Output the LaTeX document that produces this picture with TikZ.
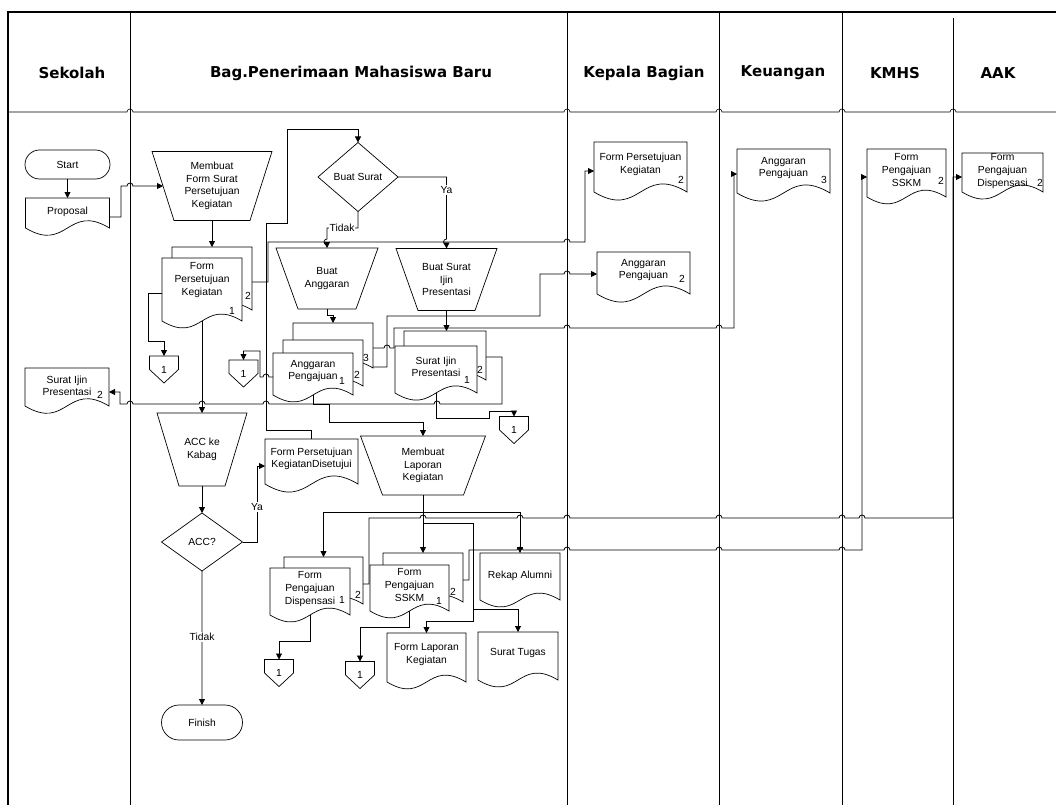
\documentclass[tikz,border=0pt]{standalone}
\usepackage{fontspec}
\setmainfont{Liberation Sans}
\newfontfamily\hdrfamily{DejaVu Sans}
\usepackage{tikz}
\usetikzlibrary{arrows.meta,shapes.geometric,shapes.misc}

\newcommand{\dgfont}{\fontsize{10.3}{12.6}\selectfont}
% line hops: over a vertical line (left to right / right to left), over a horizontal line (downwards)
\newcommand{\hopr}[2]{-- (#1-3,#2) arc[start angle=180,end angle=360,radius=3]}
\newcommand{\hopl}[2]{-- (#1+3,#2) arc[start angle=0,end angle=-180,radius=3]}
\newcommand{\hopd}[2]{-- (#1,#2-3) arc[start angle=270,end angle=90,radius=3]}

\makeatletter
\newdimen\shL \newdimen\shR \newdimen\shB \newdimen\shT
\newdimen\shW \newdimen\shAx \newdimen\shAy \newdimen\shBx \newdimen\shBy
\pgfkeys{/pgf/doc drop/.initial=0pt}
% document symbol: flat top, wavy bottom
\pgfdeclareshape{wavedoc}{
  \inheritsavedanchors[from=rectangle]
  \inheritanchorborder[from=rectangle]
  \inheritanchor[from=rectangle]{center}
  \inheritanchor[from=rectangle]{north}
  \inheritanchor[from=rectangle]{south}
  \inheritanchor[from=rectangle]{east}
  \inheritanchor[from=rectangle]{west}
  \inheritanchor[from=rectangle]{north east}
  \inheritanchor[from=rectangle]{north west}
  \inheritanchor[from=rectangle]{south east}
  \inheritanchor[from=rectangle]{south west}
  \saveddimen{\docdrop}{\pgfmathsetlength\pgf@x{\pgfkeysvalueof{/pgf/doc drop}}}
  \anchor{bottom}{%
    \southwest \pgf@xa=\pgf@x \pgf@ya=\pgf@y
    \northeast \advance\pgf@x by\pgf@xa \pgf@x=.5\pgf@x
    \pgf@y=\pgf@ya \advance\pgf@y by-\docdrop}
  \backgroundpath{%
    \southwest \shL=\pgf@x \shB=\pgf@y
    \northeast \shR=\pgf@x \shT=\pgf@y
    \advance\shB by-\docdrop
    \shW=\shR \advance\shW by-\shL
    \shAx=\shR \advance\shAx by-.5\shW
    \shBx=\shL \advance\shBx by.5\shW
    \shAy=\shB \advance\shAy by.3\shW
    \shBy=\shB \advance\shBy by-.3\shW
    \pgfpathmoveto{\pgfqpoint{\shL}{\shT}}%
    \pgfpathlineto{\pgfqpoint{\shR}{\shT}}%
    \pgfpathlineto{\pgfqpoint{\shR}{\shB}}%
    \pgfpathcurveto{\pgfqpoint{\shAx}{\shAy}}{\pgfqpoint{\shBx}{\shBy}}{\pgfqpoint{\shL}{\shB}}%
    \pgfpathclose}
}
% manual operation: wide top, narrow bottom
\pgfdeclareshape{manop}{
  \inheritsavedanchors[from=rectangle]
  \inheritanchorborder[from=rectangle]
  \inheritanchor[from=rectangle]{center}
  \inheritanchor[from=rectangle]{north}
  \inheritanchor[from=rectangle]{south}
  \inheritanchor[from=rectangle]{east}
  \inheritanchor[from=rectangle]{west}
  \backgroundpath{%
    \southwest \shL=\pgf@x \shB=\pgf@y
    \northeast \shR=\pgf@x \shT=\pgf@y
    \pgfpathmoveto{\pgfqpoint{\shL}{\shT}}%
    \pgfpathlineto{\pgfqpoint{\shR}{\shT}}%
    \advance\shR by-22pt \advance\shL by22pt
    \pgfpathlineto{\pgfqpoint{\shR}{\shB}}%
    \pgfpathlineto{\pgfqpoint{\shL}{\shB}}%
    \pgfpathclose}
}
% off-page connector
\pgfdeclareshape{offpage}{
  \inheritsavedanchors[from=rectangle]
  \inheritanchorborder[from=rectangle]
  \inheritanchor[from=rectangle]{center}
  \inheritanchor[from=rectangle]{north}
  \inheritanchor[from=rectangle]{south}
  \backgroundpath{%
    \southwest \shL=\pgf@x \shB=\pgf@y
    \northeast \shR=\pgf@x \shT=\pgf@y
    \shAx=\shL \advance\shAx by\shR \shAx=.5\shAx
    \shAy=\shT \advance\shAy by\shB \shAy=.5\shAy
    \pgfpathmoveto{\pgfqpoint{\shL}{\shT}}%
    \pgfpathlineto{\pgfqpoint{\shR}{\shT}}%
    \pgfpathlineto{\pgfqpoint{\shR}{\shAy}}%
    \pgfpathlineto{\pgfqpoint{\shAx}{\shB}}%
    \pgfpathlineto{\pgfqpoint{\shL}{\shAy}}%
    \pgfpathclose}
}
\makeatother

\begin{document}
\begin{tikzpicture}[x=1pt,y=-1pt,
  font=\dgfont,
  lane/.style={line width=0.6pt},
  pageframe/.style={line width=2.2pt},
  hdr/.style={font=\hdrfamily\bfseries\fontsize{15}{18}\selectfont,inner sep=0pt},
  docu/.style={shape=wavedoc,draw,fill=white,line width=0.7pt,inner sep=0pt,outer sep=0pt,align=center},
  proc/.style={shape=manop,draw,line width=0.7pt,inner sep=0pt,outer sep=0pt,align=center},
  term/.style={rounded rectangle,draw,line width=0.7pt,inner sep=0pt,outer sep=0pt},
  dec/.style={diamond,draw,line width=0.7pt,inner sep=0pt,outer sep=0pt},
  offp/.style={shape=offpage,draw,fill=white,line width=0.7pt,inner sep=0pt,outer sep=0pt,minimum width=29pt,minimum height=27pt},
  num/.style={inner sep=0pt},
  lbl/.style={fill=white,inner sep=1pt},
  flow/.style={-{Triangle[length=6pt,width=6pt]},line width=0.8pt},
]
\useasboundingbox (0,0) rectangle (1056,805);

% --- swimlanes
\draw[pageframe] (8,805) -- (8,12) -- (1056,12);
\foreach \x in {130,567,719,842} \draw[lane] (\x,12) -- (\x,805);
\draw[lane] (953,18) -- (953,805);
\draw[lane] (8,112) \hopr{130}{112} \hopr{567}{112} \hopr{719}{112} \hopr{842}{112} \hopr{953}{112} -- (1056,112);

\node[hdr] (hSek) at (72,73) {Sekolah};
\node[hdr] (hBpmb) at (351,73) {Bag.Penerimaan Mahasiswa Baru};
\node[hdr] (hKabag) at (644,73) {Kepala Bagian};
\node[hdr] (hKeu) at (783,73) {Keuangan};
\node[hdr] (hKmhs) at (895,73) {KMHS};
\node[hdr] (hAak) at (998,73) {AAK};

% --- Sekolah
\node[term,minimum width=85pt,minimum height=29pt] (start) at (67.5,164.5) {Start};
\node[docu,minimum width=84pt,minimum height=28pt,doc drop=2pt] (proposal) at (67.5,212) {Proposal};
\node[docu,minimum width=84pt,minimum height=36pt,doc drop=2pt] (sipSek) at (67,386) {Surat Ijin\\Presentasi};
\node[num] (sipSekN) at (100,395) {2};

% --- Bag. Penerimaan Mahasiswa Baru
\node[proc,minimum width=120pt,minimum height=69pt] (mfs) at (212,186) {Membuat\\Form Surat\\Persetujuan\\Kegiatan};
\node[docu,minimum width=80pt,minimum height=63pt] (fpkB) at (212,278.5) {};
\node[docu,minimum width=80pt,minimum height=44pt,doc drop=19pt] (fpkF) at (202,280) {Form\\Persetujuan\\Kegiatan};
\node[num] (fpkN1) at (232,311) {1};
\node[num] (fpkN2) at (248,296) {2};

\node[dec,minimum width=80pt,minimum height=69pt] (bs) at (358,177) {Buat Surat};
\node[proc,minimum width=102pt,minimum height=61pt] (bAng) at (327,278.5) {Buat\\Anggaran};
\node[proc,minimum width=101pt,minimum height=62pt] (bSip) at (446.5,279.5) {Buat Surat\\Ijin\\Presentasi};

\node[docu,minimum width=80pt,minimum height=45pt] (agB3) at (333,345.5) {};
\node[docu,minimum width=80pt,minimum height=46pt] (agB2) at (323,363) {};
\node[docu,minimum width=80pt,minimum height=36pt,doc drop=6pt] (agF) at (313,371) {Anggaran\\Pengajuan};
\node[num] (agN1) at (342,381) {1};
\node[num] (agN2) at (357,375) {2};
\node[num] (agN3) at (366,358) {3};

\node[docu,minimum width=82pt,minimum height=49pt] (sipB) at (445,355.5) {};
\node[docu,minimum width=82pt,minimum height=42pt,doc drop=5pt] (sipF) at (436,367) {Surat Ijin\\Presentasi};
\node[num] (sipN1) at (467,380) {1};
\node[num] (sipN2) at (480,370) {2};

\node[offp] (c1) at (164,369.5) {1};
\node[offp] (c2) at (243.5,373.5) {1};
\node[offp] (c3) at (514,430) {1};

\node[proc,minimum width=90pt,minimum height=73pt] (accK) at (202,449.5) {ACC ke\\Kabag};
\node[dec,minimum width=81pt,minimum height=58pt] (acc) at (202,542) {ACC?};
\node[term,minimum width=81pt,minimum height=35pt] (finish) at (202,722.5) {Finish};
\node[docu,minimum width=93pt,minimum height=40pt,doc drop=5pt] (fpkd) at (311.5,459) {Form Persetujuan\\KegiatanDisetujui};

\node[proc,minimum width=125pt,minimum height=59pt] (mlk) at (423,465.5) {Membuat\\Laporan\\Kegiatan};
\coordinate (mlkJ) at (423,512);
\coordinate (lapJ) at (473,609);

\node[docu,minimum width=79pt,minimum height=47pt] (dispB) at (323.5,580.5) {};
\node[docu,minimum width=80pt,minimum height=42pt,doc drop=5pt] (dispF) at (310,589) {Form\\Pengajuan\\Dispensasi};
\node[num] (dispN1) at (342,600) {1};
\node[num] (dispN2) at (358,595) {2};

\node[docu,minimum width=80pt,minimum height=49pt] (sskmB) at (423,577.5) {};
\node[docu,minimum width=79pt,minimum height=40pt,doc drop=6pt] (sskmF) at (409.5,585) {Form\\Pengajuan\\SSKM};
\node[num] (sskmN1) at (439,601) {1};
\node[num] (sskmN2) at (453,592) {2};

\node[docu,minimum width=80pt,minimum height=46pt,doc drop=1pt] (rekap) at (520,576) {Rekap Alumni};
\node[docu,minimum width=79pt,minimum height=43pt,doc drop=6pt] (flk) at (426.5,654.5) {Form Laporan\\Kegiatan};
\node[docu,minimum width=80pt,minimum height=42pt,doc drop=6pt] (stugas) at (518,653) {Surat Tugas};
\node[offp] (c4) at (279,673) {1};
\node[offp] (c5) at (360,675) {1};

% --- Kepala Bagian, Keuangan, KMHS, AAK
\node[docu,minimum width=93pt,minimum height=45pt,doc drop=5pt] (kbFpk) at (640.5,164.5) {Form Persetujuan\\Kegiatan};
\node[num] (kbFpkN) at (681,180) {2};
\node[docu,minimum width=93pt,minimum height=36pt,doc drop=6pt] (kbAp) at (643.5,270) {Anggaran\\Pengajuan};
\node[num] (kbApN) at (682,279) {2};
\node[docu,minimum width=93pt,minimum height=38pt,doc drop=6pt] (kuAp) at (783.5,168) {Anggaran\\Pengajuan};
\node[num] (kuApN) at (824,180) {3};
\node[docu,minimum width=79pt,minimum height=42pt,doc drop=6pt] (kmSskm) at (906.5,170) {Form\\Pengajuan\\SSKM};
\node[num] (kmSskmN) at (941,181) {2};
\node[docu,minimum width=81pt,minimum height=36pt,doc drop=3pt] (aakDisp) at (1002.5,171) {Form\\Pengajuan\\Dispensasi};
\node[num] (aakDispN) at (1040,183) {2};

% --- connectors
\draw[flow] (start) -- (proposal);
\draw[flow] ([yshift=-5pt]proposal.east) -| (121,186) \hopr{130}{186} -- ([xshift=11pt]mfs.west);
\draw[flow] (mfs) -- (fpkB);
\draw[flow] ([yshift=-13pt]fpkF.west) -| (148,341) -| (c1.north);
\draw[flow] ([yshift=-3.5pt]fpkB.east) -| (268,242) \hopr{567}{242} -| (585,171) -- ([yshift=-6.5pt]kbFpk.west);
\draw[flow] (fpkF.bottom) -- (accK);
\draw[flow] (accK) -- (acc);
\draw[flow] (acc.east) -| (257,466) -- ([yshift=-7pt]fpkd.west);
\draw[flow] (acc) -- (finish);
\draw[flow] (fpkd.north) -- ++(0,-9) -| (266,223) -| (287,129) -| (bs.north);
\draw[flow] (bs.south) |- (327,228) \hopd{327}{242} -- (bAng.north);
\draw[flow] (bs.east) -| (446.5,230) \hopd{446.5}{242} -- (bSip.north);
\draw[flow] (bAng.south) -- ++(0,6) -| (agB3.north);
\draw[flow] (bSip.south) -- (bSip.south |- sipB.north);
\draw[flow] ([yshift=1pt]agB3.south east) -| (387,316) -| (540,274) \hopr{567}{274} -- ([yshift=-4pt]kbAp.west);
\draw[flow] ([yshift=-2.5pt]agB3.east) \hopr{387}{348} -- (394,348) -- (394,328) \hopr{567}{328} \hopr{719}{328} -| (734,174) -- ([yshift=-6pt]kuAp.west);
\draw[flow] ([yshift=-1.5pt]sipB.east) -| (502,404) \hopl{437}{404} \hopl{266}{404} \hopl{202}{404} \hopl{130}{404} -| (120,392) -- ([yshift=-6pt]sipSek.east);
\draw[flow] (sipF.bottom) |- (489,418) -- (489,411) -| (c3.north);
\draw[flow] ([yshift=-6pt]agF.west) \hopl{266}{377} -| (260,351) -| (c2.north);
\draw[flow] (agF.bottom) -- (313,404) -| (329,422) -| (mlk.north);
\draw[flow] (mlk.south) -- (mlkJ) -| (dispB.north);
\draw[flow] (mlkJ) -- (sskmB.north);
\draw[flow] (mlkJ) -| (rekap.north);
\draw[flow] (mlk.south) |- (473,523) -- (473,621) -| (flk.north);
\draw[flow] (lapJ) -| (stugas.north);
\draw[flow] ([yshift=-3.5pt]dispB.east) -| (369,518) \hopr{423}{518} \hopr{520}{518} \hopr{567}{518} \hopr{719}{518} \hopr{842}{518} \hopr{862}{518} -| (953,177) -- ([yshift=-6pt]aakDisp.west);
\draw[flow] ([yshift=-2.5pt]sskmB.east) -| (469,550) \hopr{520}{550} \hopr{567}{550} \hopr{719}{550} \hopr{842}{550} -| (862,177) -- ([yshift=-7pt]kmSskm.west);
\draw[flow] (dispF.bottom) |- ([yshift=18pt]c4.north) -- (c4.north);
\draw[flow] (sskmF.bottom) |- ([yshift=34pt]c5.north) -- (c5.north);

% --- branch labels
\node[lbl] (tidakBs) at (342,228) {Tidak};
\node[lbl] (yaBs) at (446.5,190) {Ya};
\node[lbl] (yaAcc) at (257,507) {Ya};
\node[lbl] (tidakAcc) at (202,637) {Tidak};
\end{tikzpicture}
\end{document}
